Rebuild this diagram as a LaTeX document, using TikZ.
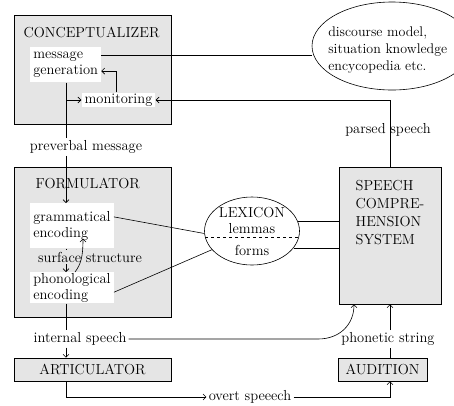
\documentclass[tikz,border=0pt]{standalone}
\usepackage{fontspec}
\usepackage{tikz}
\usetikzlibrary{positioning,calc,shapes,arrows.meta}
\tikzstyle{bigbox}=[draw, fill=gray!20, inner sep=0pt]
\tikzstyle{whitebox}=[fill=white, align=left, inner sep=3pt]
\tikzstyle{lbl}=[inner sep=2pt]
\tikzstyle{bubble}=[ellipse, draw, inner sep=0pt]

\begin{document}
\begin{tikzpicture}[x=1pt,y=-1pt,line width=0.6pt,>={Straight Barb[length=3pt,width=6pt]},font=\fontsize{14.5}{16}\selectfont]
\useasboundingbox (0,0) rectangle (454,405);
\coordinate (spine) at (66,0);
% big boxes
\node[bigbox, minimum width=157pt, minimum height=109pt] (conc) at (92.5,69.5) {};
\node[bigbox, minimum width=157pt, minimum height=150pt] (form) at (92.5,242) {};
\node[bigbox, minimum width=102pt, minimum height=137pt] (sp) at (390,235.5) {};
\node[bigbox, minimum width=157pt, minimum height=23pt] (art) at (92.5,369.5) {ARTICULATOR};
\node[bigbox, minimum width=89pt, minimum height=23pt] (aud) at (382.5,369.5) {AUDITION};
\node[anchor=west] (conct) at (20,32) {CONCEPTUALIZER};
\node[anchor=west] (formt) at (32,183) {FORMULATOR};
\node[align=left, anchor=north west, font=\fontsize{14.5}{18}\selectfont] (spt) at (352,177) {SPEECH\\COMPRE-\\HENSION\\SYSTEM};
% inner boxes
\node[whitebox, anchor=north west, minimum height=35pt] (msg) at (30,47) {message\\generation};
\node[whitebox, inner ysep=1pt] (mon) at (118.5,100) {monitoring};
\node[whitebox, anchor=north west, minimum height=45pt] (gram) at (30,203) {grammatical\\encoding};
\node[whitebox, anchor=north west, minimum height=31pt, inner ysep=1pt] (phon) at (30,272) {phonological\\encoding};
% ellipses
\node[bubble, minimum width=160pt, minimum height=88pt] (disc) at (392,46) {};
\node[align=left, anchor=west, inner sep=1pt, font=\fontsize{14}{17}\selectfont] (disct) at (327,50) {discourse model,\\situation knowledge\\encycopedia etc.};
\node[bubble, minimum width=95pt, minimum height=68pt] (lex) at (252,231) {};
\node[lbl] (lext) at (252,213) {LEXICON};
\node[lbl] (lemt) at (252,229) {lemmas};
\node[lbl] (formst) at (252,250) {forms};
\draw[dashed] (lex.188) -- (lex.-8);
% labels
\node[lbl] (pm) at (86,147) {preverbal message};
\node[lbl] (ss) at (90,257) {surface structure};
\node[lbl] (parsed) at (388,130) {parsed speech};
\node[lbl] (is) at (80,339) {internal speech};
\node[lbl] (ps) at (388,339) {phonetic string};
\node[lbl] (ov) at (250,397) {overt speeech};
% connectors
\draw (msg.15) -- (msg.15 -| disc.west);
\draw[->] ([xshift=-2pt]mon.north) |- (msg.-10);
\draw[->] (spine |- mon.west) -- (mon.west);
\draw (msg.south -| spine) -- (pm.north -| spine);
\draw[->] (pm.south -| spine) -- (gram.north -| spine);
\draw[->] (sp.north) |- (mon.east);
\draw (gram.south -| spine) -- (ss.north -| spine);
\draw[->] (ss.south -| spine) -- (phon.north -| spine);
\draw[->] ($(phon.north -| spine)+(9,0)$) .. controls +(6,-8) and +(0,18) .. ($(gram.south -| spine)+(17,-10)$);
\draw (gram.12) -- (lex.183);
\draw (phon.-6) -- (lex.205);
\draw (lex.12) -- (lex.12 -| sp.west);
\draw (lex.-22) -- (lex.-22 -| sp.west);
\draw (phon.south -| spine) -- (is.north -| spine);
\draw[->] (is.south -| spine) -- (art.north -| spine);
\coordinate (isbend) at (318,339);
\draw[->] (is.east) -- (isbend) .. controls +(22,0) and +(0,20) .. ([xshift=-36pt]sp.south);
\draw (aud.north -| sp.south) -- (ps.south -| sp.south);
\draw[->] (ps.north -| sp.south) -- (sp.south);
\draw[->] (art.south -| spine) |- (ov.west);
\draw[->] (ov.east) -| (aud.south -| sp.south);
\end{tikzpicture}
\end{document}
